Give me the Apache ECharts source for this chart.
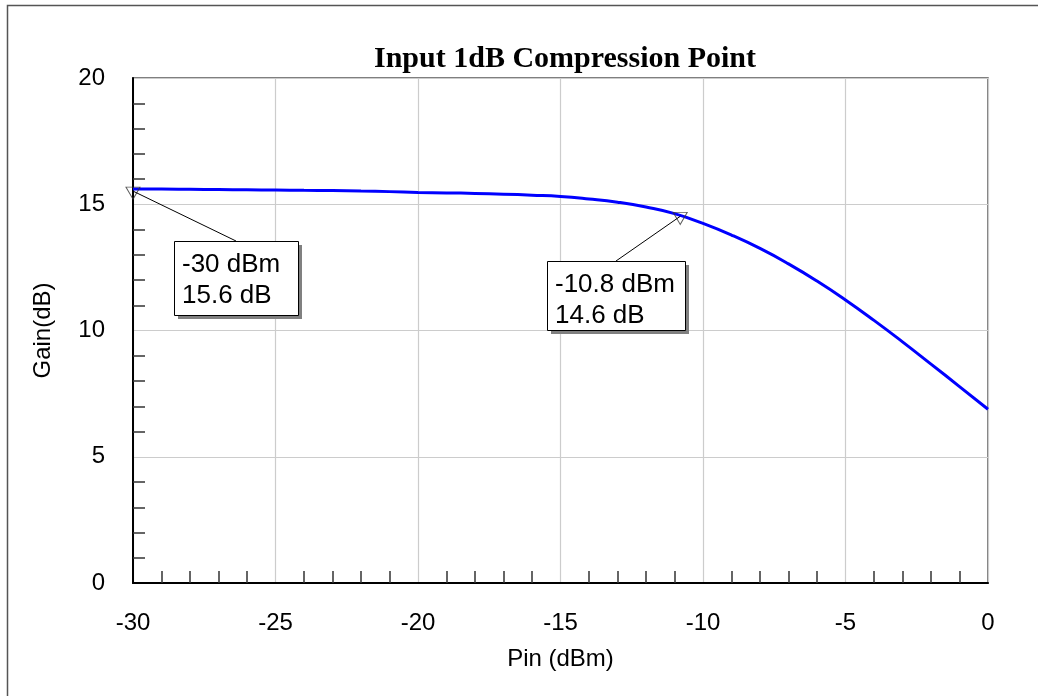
<!DOCTYPE html>
<html>
<head>
<meta charset="utf-8">
<script src="https://cdn.jsdelivr.net/npm/echarts@6/dist/echarts.min.js"></script>
<style>
  html, body { margin: 0; padding: 0; background: #ffffff; }
  #chart { width: 1038px; height: 696px; }
</style>
</head>
<body>
<div id="chart"></div>
<script>
// Swept input power (dBm) and measured small-signal gain (dB)
const pinDbm = [-30, -29, -28, -27, -26, -25, -24, -23, -22, -21, -20,
                -19, -18, -17, -16, -15, -14, -13, -12, -11, -10,
                -9, -8, -7, -6, -5, -4, -3, -2, -1, 0];
const gainDb = [15.60, 15.60, 15.59, 15.58, 15.57, 15.56, 15.55, 15.54, 15.52, 15.50, 15.47,
                15.45, 15.43, 15.40, 15.36, 15.31, 15.21, 15.08, 14.89, 14.63, 14.24,
                13.78, 13.25, 12.64, 11.96, 11.21, 10.40, 9.55, 8.67, 7.78, 6.88];

// Marker readouts: start of sweep and the 1 dB compression point
const markerPin = [-30, -10.8];
const markerGain = [15.6, 14.6];

// Axis ranges
const xRange = { min: -30, max: 0, interval: 5 };
const yRange = { min: 0, max: 20, interval: 5 };

const SANS = '"Liberation Sans", Arial, sans-serif';
const SERIF = '"Liberation Serif", "Times New Roman", serif';

const chart = echarts.init(document.getElementById('chart'), null, { renderer: 'canvas' });

const axisCommon = {
  type: 'value',
  axisLine: { show: true, onZero: false, lineStyle: { color: '#000', width: 2 } },
  axisTick: { show: false, inside: true },
  minorTick: { show: true, splitNumber: 5, length: 12, lineStyle: { color: '#333', width: 1.5 } },
  splitLine: { show: true, lineStyle: { color: '#cccccc', width: 1.2 } },
  minorSplitLine: { show: false },
  axisLabel: { color: '#000', fontFamily: SANS, fontSize: 24, margin: 28 },
  nameTextStyle: { color: '#000', fontFamily: SANS, fontSize: 24 },
  nameLocation: 'middle'
};

chart.setOption({
  animation: false,
  backgroundColor: '#ffffff',
  title: {
    text: 'Input 1dB Compression Point',
    left: 560, top: 39, textAlign: 'center',
    textStyle: { fontFamily: SERIF, fontWeight: 'bold', fontSize: 30, color: '#000' }
  },
  grid: {
    left: 133, right: 50, top: 78, bottom: 113,
    show: true, borderColor: '#555', borderWidth: 1.5, backgroundColor: 'transparent'
  },
  xAxis: Object.assign({}, axisCommon, {
    min: xRange.min, max: xRange.max, interval: xRange.interval,
    name: 'Pin (dBm)', nameGap: 64
  }),
  yAxis: Object.assign({}, axisCommon, {
    min: yRange.min, max: yRange.max, interval: yRange.interval,
    name: 'Gain(dB)', nameGap: 78
  }),
  series: [
    {
      type: 'line',
      data: pinDbm.map((p, i) => [p, gainDb[i]]),
      showSymbol: false,
      smooth: 0.5,
      lineStyle: { color: '#0000ff', width: 3 },
      emphasis: { disabled: true },
      z: 3
    },
    {
      type: 'scatter',
      data: markerPin.map((p, i) => [p, markerGain[i]]),
      symbol: 'triangle',
      symbolRotate: 180,
      symbolSize: [14, 12],
      symbolOffset: [0, 4],
      itemStyle: { color: 'rgba(255,255,255,0)', borderColor: '#333', borderWidth: 1 },
      emphasis: { disabled: true },
      silent: true,
      z: 5
    }
  ]
});

// Callout boxes for the marker readouts, placed relative to each marker
const calloutOffset = [[41, 52], [-133, 47]];
const calloutSize = [[124, 74], [138, 69]];

function fmt(v) { return String(v); }

const graphics = [
  {
    type: 'rect', silent: true, z: 200,
    shape: { x: 7.5, y: 5.5, width: 1200, height: 900 },
    style: { fill: 'none', stroke: '#555', lineWidth: 1.5 }
  }
];

markerPin.forEach((p, i) => {
  const pt = chart.convertToPixel({ gridIndex: 0 }, [p, markerGain[i]]);
  const bx = Math.round(pt[0] + calloutOffset[i][0]);
  const by = Math.round(pt[1] + calloutOffset[i][1]);
  const w = calloutSize[i][0], h = calloutSize[i][1];
  graphics.push({
    type: 'line', silent: true, z: 150,
    shape: { x1: pt[0], y1: pt[1] + 2, x2: bx + w / 2, y2: by },
    style: { stroke: '#000', lineWidth: 1 }
  });
  graphics.push({
    type: 'rect', silent: true, z: 150,
    shape: { x: bx + 4, y: by + 4, width: w, height: h },
    style: { fill: '#808080' }
  });
  graphics.push({
    type: 'rect', silent: true, z: 151,
    shape: { x: bx + 0.5, y: by + 0.5, width: w, height: h },
    style: { fill: '#ffffff', stroke: '#000', lineWidth: 1 }
  });
  graphics.push({
    type: 'text', silent: true, z: 152,
    x: bx + 8, y: by + 8,
    style: {
      text: fmt(p) + ' dBm\n' + fmt(markerGain[i]) + ' dB',
      fontFamily: SANS, fontSize: 26, lineHeight: 31,
      fill: '#000', textAlign: 'left', textVerticalAlign: 'top'
    }
  });
});

chart.setOption({ graphic: graphics });
</script>
</body>
</html>
